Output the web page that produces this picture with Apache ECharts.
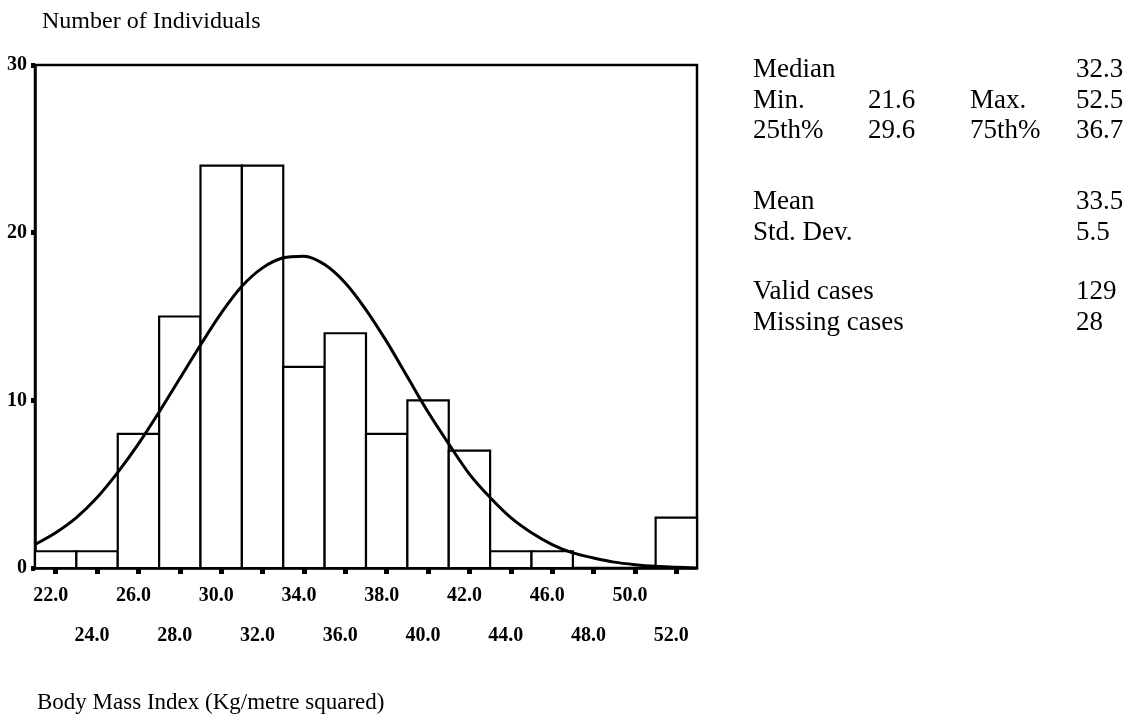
<!DOCTYPE html>
<html>
<head>
<meta charset="utf-8">
<title>Body Mass Index histogram</title>
<script src="https://cdn.jsdelivr.net/npm/echarts@6/dist/echarts.min.js"></script>
<style>
  html, body { margin: 0; padding: 0; background: #fff; }
  #main { width: 1137px; height: 723px; }
</style>
</head>
<body>
<div id="main"></div>
<script>
// histogram bins (midpoints) and counts
var binCenters = [22, 24, 26, 28, 30, 32, 34, 36, 38, 40, 42, 44, 46, 48, 50, 52];
var binCounts  = [1, 1, 8, 15, 24, 24, 12, 14, 8, 10, 7, 1, 1, 0, 0, 3];

// fitted normal curve
var curveX = [21, 22, 23, 24, 25, 26, 27, 28, 29, 30, 31, 32, 33, 34, 35, 36, 37,
              38, 39, 40, 41, 42, 43, 44, 45, 46, 47, 48, 49, 50, 51, 52, 53];
var curveY = [1.4, 2.1, 3.0, 4.2, 5.7, 7.4, 9.3, 11.3, 13.3, 15.2, 16.8, 17.9, 18.5, 18.6, 18.1, 17.0, 15.4,
              13.5, 11.4, 9.3, 7.4, 5.6, 4.2, 3.0, 2.1, 1.4, 0.9, 0.6, 0.35, 0.2, 0.1, 0.05, 0];

// tick labels
var xLabelsTop = [22, 26, 30, 34, 38, 42, 46, 50];
var xLabelsBottom = [24, 28, 32, 36, 40, 44, 48, 52];
var yTicks = [0, 10, 20, 30];

// summary statistics panel
var statNames  = ['Median', 'Min.', '25th%', 'Mean', 'Std. Dev.', 'Valid cases', 'Missing cases'];
var statMid    = ['', '21.6', '29.6', '', '', '', ''];
var statName2  = ['', 'Max.', '75th%', '', '', '', ''];
var statValues = ['32.3', '52.5', '36.7', '33.5', '5.5', '129', '28'];

var FONT = 'Liberation Serif';
var binWidth = binCenters[1] - binCenters[0];

var chart = echarts.init(document.getElementById('main'));

var histData = binCenters.map(function (c, i) { return [c, binCounts[i]]; });
var curveData = curveX.map(function (x, i) { return [x, curveY[i]]; });

// text of the stats panel
var rowY = [70, 101, 131, 202, 233, 292, 323];
var colX = [753, 868, 970, 1076];
var statText = [];
statNames.forEach(function (name, i) {
  [name, statMid[i], statName2[i], statValues[i]].forEach(function (t, j) {
    if (!t) return;
    statText.push({
      type: 'text', x: colX[j], y: rowY[i],
      style: { text: t, font: '27px "' + FONT + '"', fill: '#000', verticalAlign: 'middle' }
    });
  });
});

var tickLabel = { fontFamily: FONT, fontSize: 20, fontWeight: 'bold', color: '#000' };

var option = {
  animation: false,
  backgroundColor: '#fff',
  grid: {
    left: 35, right: 440, top: 65, bottom: 155,
    show: true, borderColor: '#000', borderWidth: 2.5
  },
  xAxis: [{
    type: 'value', min: 21, max: 53,
    splitLine: { show: false },
    axisLine: { show: true, onZero: false, lineStyle: { color: '#000', width: 2.5 } },
    axisTick: { show: true, customValues: binCenters, length: 6, lineStyle: { color: '#000', width: 5 } },
    axisLabel: Object.assign({
      customValues: xLabelsTop, margin: 18, padding: [0, 10, 0, 0],
      formatter: function (v) { return v.toFixed(1); }
    }, tickLabel)
  }, {
    type: 'value', min: 21, max: 53, position: 'bottom',
    splitLine: { show: false },
    axisLine: { show: false },
    axisTick: { show: false },
    axisLabel: Object.assign({
      customValues: xLabelsBottom, margin: 58, padding: [0, 10, 0, 0],
      formatter: function (v) { return v.toFixed(1); }
    }, tickLabel)
  }],
  yAxis: {
    type: 'value', min: 0, max: 30, interval: 10,
    splitLine: { show: false },
    axisLine: { show: true, lineStyle: { color: '#000', width: 2.5 } },
    axisTick: { show: true, customValues: yTicks, length: 4, lineStyle: { color: '#000', width: 5 } },
    axisLabel: Object.assign({ margin: 8, padding: [0, 0, 6, 0] }, tickLabel)
  },
  series: [{
    type: 'custom',
    xAxisIndex: 0, yAxisIndex: 0,
    data: histData,
    renderItem: function (params, api) {
      var c = api.value(0), v = api.value(1);
      if (!v) return;
      var p0 = api.coord([c - binWidth / 2, v]);
      var p1 = api.coord([c + binWidth / 2, 0]);
      return {
        type: 'rect',
        shape: { x: p0[0], y: p0[1], width: p1[0] - p0[0], height: p1[1] - p0[1] },
        style: { fill: '#fff', stroke: '#000', lineWidth: 2.2 }
      };
    }
  }, {
    type: 'line',
    xAxisIndex: 0, yAxisIndex: 0,
    data: curveData,
    smooth: 0.3,
    showSymbol: false,
    lineStyle: { color: '#000', width: 3 },
    z: 5
  }],
  graphic: [{
    type: 'text', x: 42, y: 22,
    style: { text: 'Number of Individuals', font: '24px "' + FONT + '"', fill: '#000', verticalAlign: 'middle' }
  }, {
    type: 'text', x: 37, y: 703,
    style: { text: 'Body Mass Index (Kg/metre squared)', font: '23px "' + FONT + '"', fill: '#000', verticalAlign: 'middle' }
  }].concat(statText)
};

chart.setOption(option);
</script>
</body>
</html>
